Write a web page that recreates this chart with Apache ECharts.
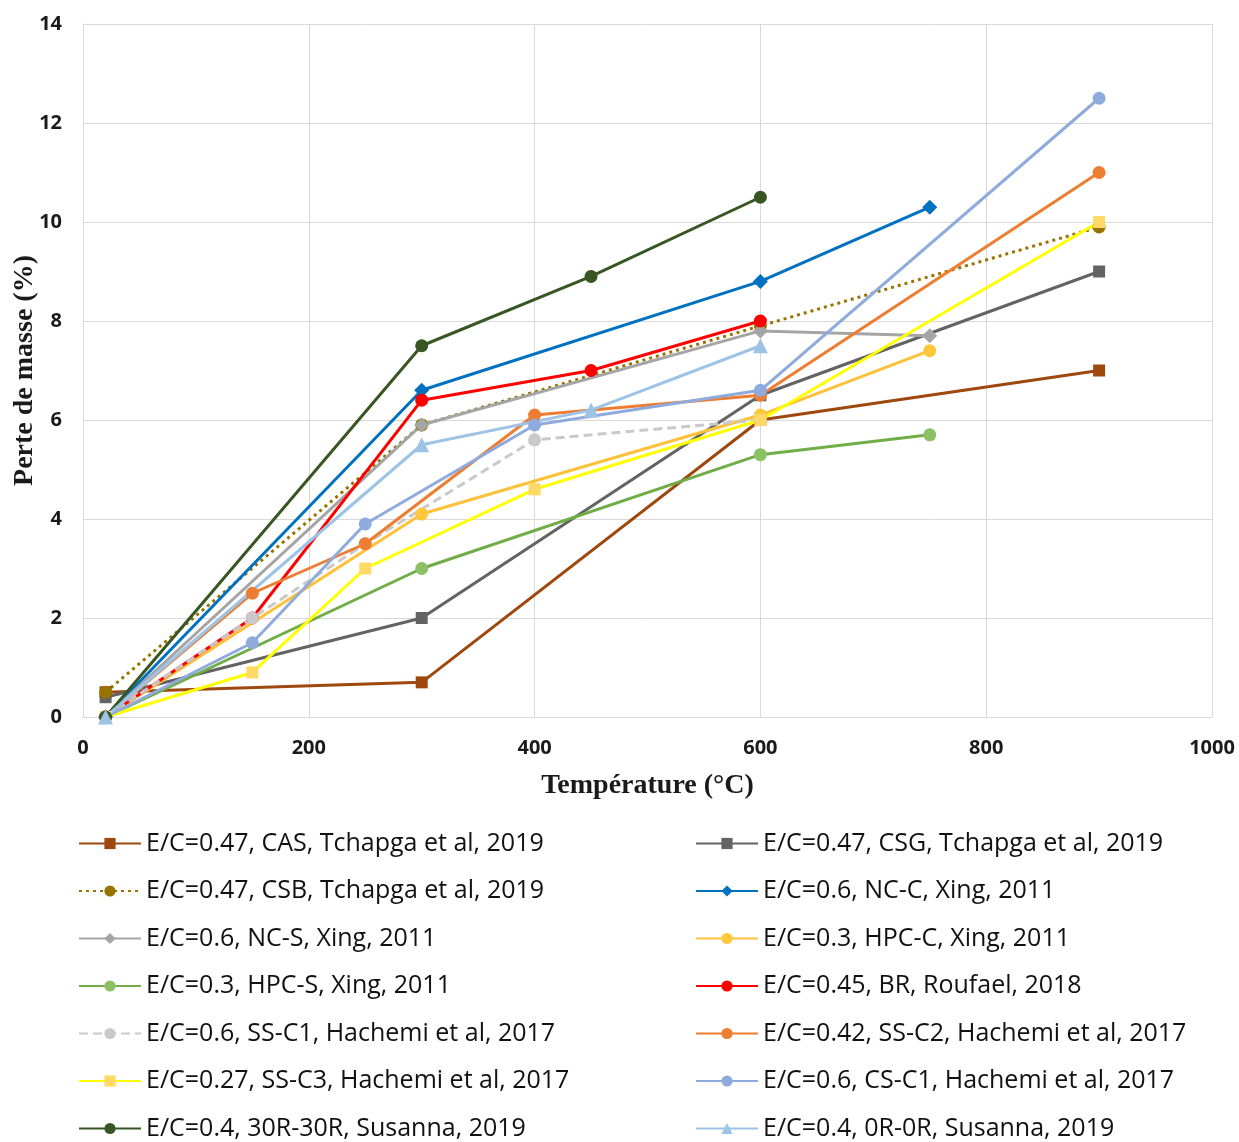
<!DOCTYPE html>
<html><head><meta charset="utf-8">
<script src="https://cdn.jsdelivr.net/npm/echarts@6/dist/echarts.min.js"></script>
<style>html,body{margin:0;padding:0;background:#fff}#c{width:1239px;height:1142px}</style>
</head><body><div id="c"></div>
<script>
const xTicks = [0, 200, 400, 600, 800, 1000];
const yTicks = [0, 2, 4, 6, 8, 10, 12, 14];

const namesList = [
  'E/C=0.47, CAS, Tchapga et al, 2019',
  'E/C=0.47, CSG, Tchapga et al, 2019',
  'E/C=0.47, CSB, Tchapga et al, 2019',
  'E/C=0.6, NC-C, Xing, 2011',
  'E/C=0.6, NC-S, Xing, 2011',
  'E/C=0.3, HPC-C, Xing, 2011',
  'E/C=0.3, HPC-S, Xing, 2011',
  'E/C=0.45, BR, Roufael, 2018',
  'E/C=0.6, SS-C1, Hachemi et al, 2017',
  'E/C=0.42, SS-C2, Hachemi et al, 2017',
  'E/C=0.27, SS-C3, Hachemi et al, 2017',
  'E/C=0.6, CS-C1, Hachemi et al, 2017',
  'E/C=0.4, 30R-30R, Susanna, 2019',
  'E/C=0.4, 0R-0R, Susanna, 2019'
];

const tCAS = [20, 300, 600, 900];      const vCAS = [0.5, 0.7, 6.0, 7.0];
const tCSG = [20, 300, 600, 900];      const vCSG = [0.4, 2.0, 6.5, 9.0];
const tCSB = [20, 300, 600, 900];      const vCSB = [0.5, 5.9, 7.9, 9.9];
const tNCC = [20, 300, 600, 750];      const vNCC = [0, 6.6, 8.8, 10.3];
const tNCS = [20, 300, 600, 750];      const vNCS = [0, 5.9, 7.8, 7.7];
const tHPCC = [20, 300, 600, 750];     const vHPCC = [0, 4.1, 6.1, 7.4];
const tHPCS = [20, 300, 600, 750];     const vHPCS = [0, 3.0, 5.3, 5.7];
const tBR = [20, 150, 300, 450, 600];  const vBR = [0, 2.0, 6.4, 7.0, 8.0];
const tSSC1 = [20, 150, 250, 400, 600];      const vSSC1 = [0, 2.0, 3.5, 5.6, 6.0];
const tSSC2 = [20, 150, 250, 400, 600, 900]; const vSSC2 = [0, 2.5, 3.5, 6.1, 6.5, 11.0];
const tSSC3 = [20, 150, 250, 400, 600, 900]; const vSSC3 = [0, 0.9, 3.0, 4.6, 6.0, 10.0];
const tCSC1 = [20, 150, 250, 400, 600, 900]; const vCSC1 = [0, 1.5, 3.9, 5.9, 6.6, 12.5];
const t30R = [20, 300, 450, 600];      const v30R = [0, 7.5, 8.9, 10.5];
const t0R = [20, 300, 450, 600];       const v0R = [0, 5.5, 6.2, 7.5];

const allT = [tCAS, tCSG, tCSB, tNCC, tNCS, tHPCC, tHPCS, tBR, tSSC1, tSSC2, tSSC3, tCSC1, t30R, t0R];
const allV = [vCAS, vCSG, vCSB, vNCC, vNCS, vHPCC, vHPCS, vBR, vSSC1, vSSC2, vSSC3, vCSC1, v30R, v0R];

const styles = [
  {c:'#9E480E', s:'rect', lt:'solid'},
  {c:'#636363', s:'rect', lt:'solid'},
  {c:'#997300', s:'circle', lt:'dotted'},
  {c:'#0070C0', s:'diamond', lt:'solid'},
  {c:'#A5A5A5', s:'diamond', lt:'solid'},
  {c:'#FFC83A', lc:'#FFC03A', s:'circle', lt:'solid'},
  {c:'#8BC064', lc:'#70AD47', s:'circle', lt:'solid'},
  {c:'#FF0000', s:'circle', lt:'solid'},
  {c:'#C9C9C9', s:'circle', lt:'dashed'},
  {c:'#ED7D31', s:'circle', lt:'solid'},
  {c:'#FFD966', lc:'#FFFF00', s:'rect', lt:'solid'},
  {c:'#8FAADC', s:'circle', lt:'solid'},
  {c:'#375623', s:'circle', lt:'solid'},
  {c:'#9DC3E6', s:'triangle', lt:'solid'}
];

const series = namesList.map((n, i) => {
  const st = styles[i];
  const lc = st.lc || st.c;
  return {
    name: n,
    type: 'line',
    data: allT[i].map((t, k) => [t, allV[i][k]]),
    symbol: st.s,
    symbolSize: (st.s === 'diamond' || st.s === 'triangle') ? 15 : (st.s === 'rect' ? 12 : 13),
    showAllSymbol: true,
    lineStyle: {color: lc, width: 3, type: st.lt === 'dashed' ? [9, 5] : (st.lt === 'dotted' ? [3, 4] : 'solid')},
    itemStyle: {color: st.c, borderWidth: 0},
    emphasis: {disabled: true},
    animation: false
  };
});

const leftNames = namesList.filter((_, i) => i % 2 === 0);
const rightNames = namesList.filter((_, i) => i % 2 === 1);

const legendCommon = {
  orient: 'vertical',
  top: 831,
  bottom: 0,
  padding: 0,
  itemWidth: 62,
  itemHeight: 14,
  itemGap: 22.5,
  textStyle: {fontFamily: 'Open Sans', fontSize: 25, color: '#111111', lineHeight: 25, padding: [0, 0, 0, 0]},
  selectedMode: false
};

const chart = echarts.init(document.getElementById('c'), null, {renderer: 'canvas'});
chart.setOption({
  backgroundColor: '#fff',
  animation: false,
  grid: {left: 83, right: 27, top: 24, bottom: 425, containLabel: false, outerBoundsMode: 'none'},
  xAxis: {
    type: 'value', min: xTicks[0], max: xTicks[xTicks.length - 1], interval: 200,
    name: 'Température (°C)', nameLocation: 'middle', nameGap: 55, nameMoveOverlap: false,
    nameTextStyle: {fontFamily: 'Liberation Serif', fontWeight: 'bold', fontSize: 28, color: '#1a1a1a'},
    axisLine: {show: true, lineStyle: {color: '#D9D9D9', width: 1}},
    axisTick: {show: false},
    splitLine: {show: true, lineStyle: {color: '#D9D9D9', width: 1}},
    axisLabel: {margin: 21, fontFamily: 'Open Sans', fontWeight: 'bold', fontSize: 20, color: '#1a1a1a', formatter: v => String(v)}
  },
  yAxis: {
    type: 'value', min: yTicks[0], max: yTicks[yTicks.length - 1], interval: 2,
    name: 'Perte de masse (%)', nameLocation: 'middle', nameGap: 44, nameMoveOverlap: false,
    nameTextStyle: {fontFamily: 'Liberation Serif', fontWeight: 'bold', fontSize: 28, color: '#1a1a1a'},
    axisLine: {show: true, lineStyle: {color: '#D9D9D9', width: 1}},
    axisTick: {show: false},
    splitLine: {show: true, lineStyle: {color: '#D9D9D9', width: 1}},
    axisLabel: {margin: 21, fontFamily: 'Open Sans', fontWeight: 'bold', fontSize: 20, color: '#1a1a1a'}
  },
  legend: [
    Object.assign({}, legendCommon, {left: 78, data: leftNames}),
    Object.assign({}, legendCommon, {left: 695, data: rightNames})
  ],
  series: series
});
</script>
</body></html>
